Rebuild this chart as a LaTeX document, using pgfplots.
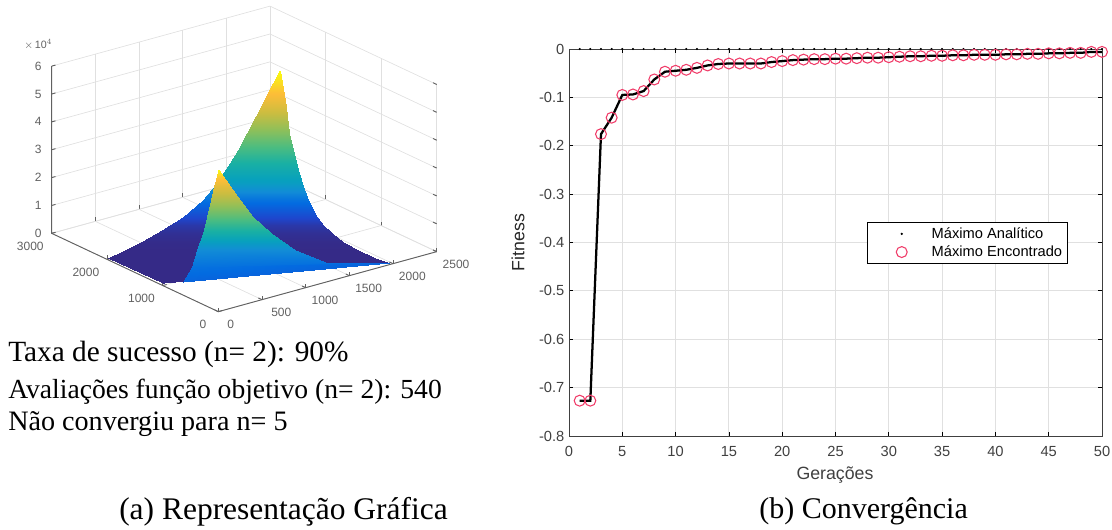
\documentclass[border=0pt]{standalone}
\usepackage{fontspec}
\setmainfont{Liberation Sans}
\newfontfamily\serif{Liberation Serif}
\usepackage{pgfplots}
\pgfplotsset{compat=1.18}
\pgfplotsset{legend image code/.code={\path (-23.8pt,0pt)--(20.5pt,0pt);\draw[#1] plot coordinates {(0pt,0pt)};}}
\usepackage{pgfplotstable}
\definecolor{axg}{gray}{0.38}
\definecolor{gridg}{gray}{0.88}
\definecolor{circ}{RGB}{240,60,105}
\pgfplotstableread{
x y z c
1723 1609 56400 1.00
1727 1604 56400 1.00
1679 1649 52200 0.95
1742 1591 52200 0.95
1614 1708 46200 0.87
1764 1571 46200 0.87
1552 1766 40200 0.78
1776 1560 40200 0.78
1487 1826 34200 0.68
1795 1542 34200 0.68
1422 1886 28200 0.58
1819 1520 28200 0.58
1354 1948 22200 0.48
1848 1494 22200 0.48
1275 2021 16200 0.38
1884 1460 16200 0.38
1143 2078 10800 0.22
1906 1376 10800 0.22
926 2085 6600 0.11
1889 1200 6600 0.11
789 2110 4560 0.05
1897 1092 4560 0.05
632 2102 3000 0.02
1896 939 3000 0.02
439 2087 1800 0.005
1903 741 1800 0.005
233 2046 960 0.00
1918 496 960 0.00
25 2020 0 0.00
1952 248 0 0.00
28 1826 0 0.00
1983 28 0 0.00
31 1441 0 0.00
1011 540 0 0.00
39 1050 0 0.00
43 1046 0 0.00
}\backsheet
\pgfplotstableread{
x y z c
1128 1773 24600 1.00
1133 1769 24600 1.00
1116 1784 22200 0.93
1159 1744 22200 0.93
1097 1802 18600 0.85
1212 1696 18600 0.85
1077 1819 13800 0.75
1282 1631 13800 0.75
1049 1846 7800 0.62
1381 1541 7800 0.62
964 1796 3000 0.48
1460 1340 3000 0.48
750 1570 960 0.30
1461 917 960 0.30
499 1265 0 0.22
1549 453 0 0.22
198 954 0 0.18
1983 28 0 0.18
}\frontsheet
\pgfplotstableread{
g f
1 -0.727
2 -0.727
3 -0.176
4 -0.142
5 -0.095
6 -0.094
7 -0.087
8 -0.063
9 -0.047
10 -0.045
11 -0.043
12 -0.039
13 -0.034
14 -0.031
15 -0.030
16 -0.030
17 -0.030
18 -0.030
19 -0.027
20 -0.025
21 -0.023
22 -0.022
23 -0.021
24 -0.021
25 -0.020
26 -0.020
27 -0.019
28 -0.018
29 -0.018
30 -0.017
31 -0.016
32 -0.015
33 -0.015
34 -0.014
35 -0.014
36 -0.013
37 -0.013
38 -0.012
39 -0.012
40 -0.012
41 -0.011
42 -0.011
43 -0.010
44 -0.010
45 -0.009
46 -0.009
47 -0.008
48 -0.008
49 -0.006
50 -0.006
}\conv
\pgfplotstableread{
g f
1 0
2 0
3 0
4 0
5 0
6 0
7 0
8 0
9 0
10 0
11 0
12 0
13 0
14 0
15 0
16 0
17 0
18 0
19 0
20 0
21 0
22 0
23 0
24 0
25 0
26 0
27 0
28 0
29 0
30 0
31 0
32 0
33 0
34 0
35 0
36 0
37 0
38 0
39 0
40 0
41 0
42 0
43 0
44 0
45 0
46 0
47 0
48 0
49 0
50 0
}\analit
\begin{document}
\begin{tikzpicture}
\path[use as bounding box] (0,0) rectangle (834pt,397.5pt);
\begin{axis}[
  at={(163.75pt,163.75pt)},anchor=origin,
  x={(0.0655pt,0.018pt)},y={(-0.04167pt,0.01958pt)},z={(0pt,0.0020833pt)},
  xmin=0,xmax=2500,ymin=0,ymax=3000,zmin=0,zmax=60000,
  clip=false,
  axis line style={draw=none},
  grid=major,grid style={gridg,line width=0.5pt},
  tick style={axg,line width=0.7pt},
  tickwidth=3pt,
  xtick pos=left,ytick pos=left,ztick pos=left,
  xtick={0,500,1000,1500,2000,2500},xticklabels={\makebox[0pt]{\kern-10.5pt 0},500,1000,1500,2000,2500},
  ytick={0,1000,2000,3000},yticklabels={\makebox[0pt]{\kern9pt 0},1000,2000,3000},
  ztick={0,10000,20000,30000,40000,50000,60000},zticklabels={0,1,2,3,4,5,6},
  scaled ticks=false,
  ticklabel style={font=\fontsize{9pt}{10pt}\selectfont,text=axg},
  xticklabel style={anchor=center,xshift=14.5pt,yshift=-9.5pt},
  yticklabel style={anchor=center,xshift=-16pt,yshift=-9.5pt},
  zticklabel style={anchor=east,xshift=-4pt},
  colormap={parula}{rgb=(0.208,0.166,0.529) rgb=(0.12,0.27,0.80) rgb=(0.01,0.42,0.88) rgb=(0.07,0.55,0.84) rgb=(0.03,0.63,0.74) rgb=(0.10,0.69,0.64) rgb=(0.30,0.74,0.50) rgb=(0.56,0.75,0.35) rgb=(0.80,0.74,0.25) rgb=(0.99,0.74,0.22) rgb=(0.976,0.984,0.055)},
  point meta min=0,point meta max=1,
]
\addplot3[surf,shader=interp,mesh/rows=18,point meta=\thisrow{c}] table[x=x,y=y,z=z] {\backsheet};
\addplot3[surf,shader=interp,mesh/rows=9,point meta=\thisrow{c}] table[x=x,y=y,z=z] {\frontsheet};
\draw[axg,line width=0.7pt] (axis cs:0,0,0)--(axis cs:2500,0,0);
\draw[axg,line width=0.7pt] (axis cs:0,0,0)--(axis cs:0,3000,0)--(axis cs:0,3000,60000);
\end{axis}
\node[text=axg,font=\fontsize{8pt}{9pt}\selectfont,anchor=west,inner sep=0pt] at (18pt,364pt) {$\times$\,10$^{4}$};
\begin{axis}[
  at={(426.75pt,70.5pt)},anchor=south west,
  scale only axis,width=399.75pt,height=290.25pt,
  xmin=0,xmax=50,ymin=-0.8,ymax=0,
  xtick={0,5,...,50},xticklabels={0,5,10,15,20,25,30,35,40,45,50},
  ytick={-0.8,-0.7,-0.6,-0.5,-0.4,-0.3,-0.2,-0.1,0},
  yticklabels={-0.8,-0.7,-0.6,-0.5,-0.4,-0.3,-0.2,-0.1,0},
  tick align=inside,tickwidth=3pt,
  tick style={black,line width=0.6pt},
  axis line style={black!75,line width=0.7pt},
  grid=major,grid style={gridg,line width=0.7pt},
  clip=false,
  ticklabel style={font=\fontsize{11pt}{12pt}\selectfont,text=black!75},
  xticklabel style={yshift=-4.5pt},
  xlabel={Gerações},ylabel={Fitness},
  xlabel style={at={(axis description cs:0.499,-0.1008)},anchor=center,font=\fontsize{13.3pt}{15pt}\selectfont,text=black!75},
  ylabel style={at={(axis description cs:-0.0957,0.5)},anchor=center,font=\fontsize{13.3pt}{15pt}\selectfont,text=black!85},
  legend style={at={(0.936,0.4987)},anchor=east,draw=black,line width=0.6pt,font=\fontsize{11pt}{13pt}\selectfont,row sep=0pt,inner sep=2pt},
  legend cell align=left,
]
\addplot[draw=none,mark=*,mark size=0.55pt,mark options={draw=black,fill=black}] table[x=g,y=f] {\analit};
\addlegendentry{Máximo Analítico}
\addplot[draw=none,mark=o,mark size=4.1pt,mark options={draw=circ,line width=0.8pt}] table[x=g,y=f] {\conv};
\addlegendentry{Máximo Encontrado}
\addplot[black,line width=1.7pt,forget plot] table[x=g,y=f] {\conv};
\end{axis}
\node[inner sep=0pt,font=\serif\fontsize{22pt}{24pt}\selectfont,anchor=base west] at (6pt,126.3pt) {Taxa de sucesso (n= 2): 90\%};
\node[inner sep=0pt,font=\serif\fontsize{20.7pt}{24pt}\selectfont,anchor=base west] at (6pt,98.8pt) {Avaliações função objetivo (n= 2): 540};
\node[inner sep=0pt,font=\serif\fontsize{21.1pt}{24pt}\selectfont,anchor=base west] at (6pt,74.7pt) {Não convergiu para n= 5};
\node[inner sep=0pt,font=\serif\fontsize{23.6pt}{26pt}\selectfont,anchor=base west] at (89.25pt,7.5pt) {(a) Representação Gráfica};
\node[inner sep=0pt,font=\serif\fontsize{22.5pt}{26pt}\selectfont,anchor=base west] at (569.25pt,8.5pt) {(b) Convergência};
\end{tikzpicture}
\end{document}
